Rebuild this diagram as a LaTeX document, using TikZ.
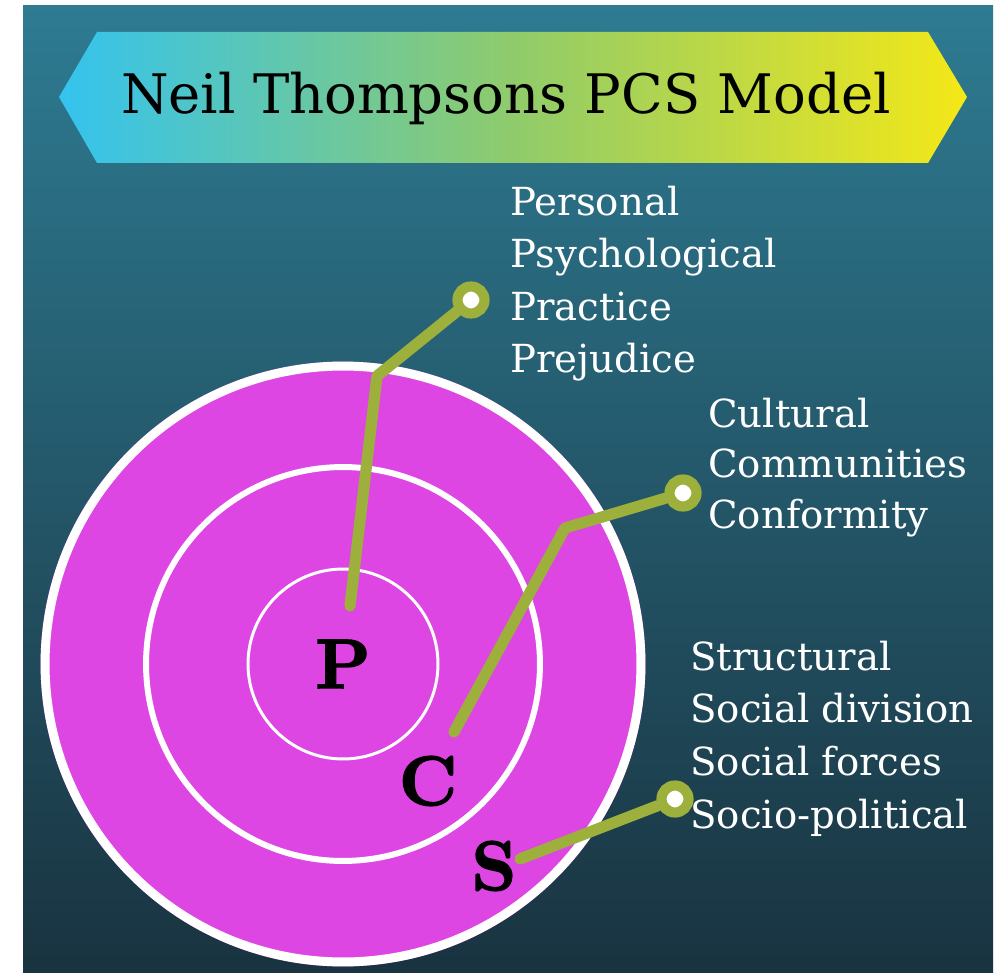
\documentclass[tikz,border=0pt]{standalone}
\usepackage{fontspec}
\usetikzlibrary{positioning}
\newfontfamily\slabfont{DejaVu Serif}
\newfontfamily\capsfont{lmroman10-bold.otf}[FakeBold=2]
\definecolor{sea}{HTML}{2E7B92}
\definecolor{deep}{HTML}{193340}
\definecolor{skyblue}{HTML}{34C3EF}
\definecolor{leaf}{HTML}{8FCB6B}
\definecolor{lemon}{HTML}{F4E817}
\definecolor{orchid}{HTML}{DD46E3}
\definecolor{olive}{HTML}{9DB03B}

\begin{document}
\begin{tikzpicture}[
  x=0.02cm, y=-0.02cm,
  ring/.style={draw=white},
  link/.style={olive,line width=6.4pt,line cap=round,line join=round},
  knob/.style={circle,draw=olive,fill=white,line width=5.8pt,minimum size=0.54cm,inner sep=0pt},
  letter/.style={font=\capsfont\fontsize{40}{40}\selectfont,inner sep=0pt},
  listtext/.style={anchor=base west,inner sep=0pt,text=white,
    font=\slabfont\fontsize{22}{22}\selectfont}]
\useasboundingbox (0,0) rectangle (997,973);
\fill[white] (0,0) rectangle (997,973);
\shade[top color=sea,bottom color=deep] (23,6) rectangle (993,973);

% title banner
\shade[left color=skyblue,right color=lemon,middle color=leaf]
  (59,97) -- (97,32) -- (928,32) -- (967,97) -- (928,163) -- (97,163) -- cycle;
\node[anchor=base,inner sep=0pt,font=\slabfont\fontsize{31}{31}\selectfont] (title)
  at (506,114) {Neil Thompsons PCS Model};

% the three rings
\coordinate (o) at (343,664);
\fill[orchid] (o) circle[radius=6.05cm];
\draw[ring,line width=5.1pt] (o) circle[radius=5.96cm];
\draw[ring,line width=3.4pt] (o) circle[radius=3.94cm];
\draw[ring,line width=1.7pt] (o) circle[radius=1.9cm];

\node[letter] (P) at (343,664) {P};
\node[letter] (C) at (428,781) {C};
\node[letter] (S) at (494,866) {S};

% knobs and their leads
\node[knob] (kp) at (471,300) {};
\node[knob] (kc) at (683,493) {};
\node[knob] (ks) at (675,799) {};
\coordinate (pend) at (350,606);
\coordinate (pbend) at (377,376);
\coordinate (cend) at (454,732);
\coordinate (cbend) at (565,528);
\coordinate (send) at (520,859);
\draw[link] (pend) -- (pbend) -- (kp);
\draw[link] (cend) -- (cbend) -- (kc);
\draw[link] (send) -- (ks);

% lists beside the knobs
\foreach \txt [count=\i] in {Personal,Psychological,Practice,Prejudice}
  \node[listtext] (pl\i) at (510,{215+52.5*(\i-1)}) {\txt};
\foreach \txt [count=\i] in {Cultural,Communities,Conformity}
  \node[listtext] (cl\i) at (708,{427+50.5*(\i-1)}) {\txt};
\foreach \txt [count=\i] in {Structural,Social division,Social forces,Socio-political}
  \node[listtext] (sl\i) at (690,{670+52.7*(\i-1)}) {\txt};
\end{tikzpicture}
\end{document}
